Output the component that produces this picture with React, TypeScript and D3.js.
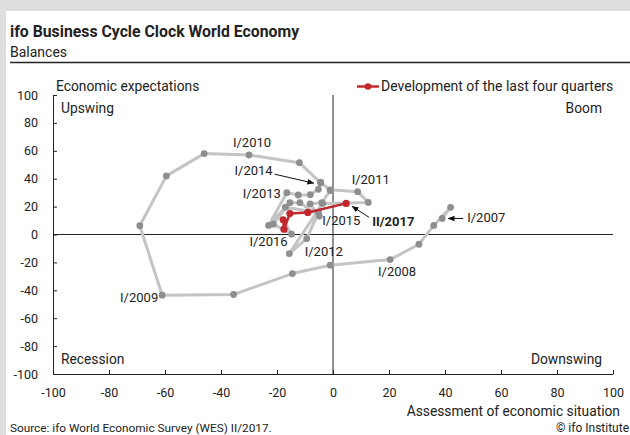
import React, { useEffect, useRef } from "react";
import * as d3 from "d3";

// quarterly observations, I/2007 .. II/2017
const quarters = [
  "I/2007", "II/2007", "III/2007", "IV/2007",
  "I/2008", "II/2008", "III/2008", "IV/2008",
  "I/2009", "II/2009", "III/2009", "IV/2009",
  "I/2010", "II/2010", "III/2010", "IV/2010",
  "I/2011", "II/2011", "III/2011", "IV/2011",
  "I/2012", "II/2012", "III/2012", "IV/2012",
  "I/2013", "II/2013", "III/2013", "IV/2013",
  "I/2014", "II/2014", "III/2014", "IV/2014",
  "I/2015", "II/2015", "III/2015", "IV/2015",
  "I/2016", "II/2016", "III/2016", "IV/2016",
  "I/2017", "II/2017",
];

// assessment of economic situation (x)
const situation = [
  39, 42, 36, 30.7,
  20.4, -1, -14.5, -35.5,
  -61, -69, -59.5, -46,
  -30, -12, -4.4, -1,
  8.8, 12.6, -3.7, -15.6,
  -9.4, -5.2, -17, -23,
  -16.5, -12.4, -8.1, -5.2,
  -4.4, -1, -4, -8.2,
  -4.9, -11.8, -15.4, -21.3,
  -14.8, -17.8, -17.5, -15.4,
  -9, 4.7,
];

// economic expectations (y)
const expectations = [
  11.5, 19.5, 6.5, -7,
  -18, -22, -28, -43,
  -43.5, 6.3, 42, 58,
  57, 51.5, 37, 32,
  30.7, 23, 22.3, -13.7,
  -3, 15.6, 19.6, 6.5,
  30, 28.3, 28.5, 32.4,
  37.5, 31.5, 22.8, 22,
  13.2, 22.8, 22.8, 7.4,
  0.2, 10.5, 3.8, 15,
  15.8, 22.3,
];

const highlightStart = "II/2016";
const axisTicks = [-100, -80, -60, -40, -20, 0, 20, 40, 60, 80, 100];

const quadrants = ["Upswing", "Boom", "Recession", "Downswing"];

// annotations: label text offset from its point, optional arrow [x1,y1,x2,y2] offsets
const annotations = [
  { q: "I/2007", dx: 25, dy: 4, anchor: "start", arrow: [21, 0, 6, 0] },
  { q: "I/2008", dx: 7, dy: 16, anchor: "middle" },
  { q: "I/2009", dx: -4, dy: 7, anchor: "end" },
  { q: "I/2010", dx: 3, dy: -8, anchor: "middle" },
  { q: "I/2011", dx: -6, dy: -8, anchor: "start" },
  { q: "I/2012", dx: -2, dy: 17, anchor: "start" },
  { q: "I/2013", dx: -6, dy: 5, anchor: "end" },
  { q: "I/2014", dx: -48, dy: -7, anchor: "end", arrow: [-46, -8, -7, 1] },
  { q: "I/2015", dx: 3, dy: 9, anchor: "start" },
  { q: "I/2016", dx: -4, dy: 12, anchor: "end" },
  { q: "II/2017", dx: 26, dy: 23, anchor: "start", arrow: [23, 14, 6, 3], bold: true },
];

const FONT = "Roboto, 'Noto Sans', sans-serif";
const TXT = "#222";

export default function App() {
  const ref = useRef<SVGSVGElement>(null);

  useEffect(() => {
    const W = 630, H = 435;
    const svg = d3.select(ref.current).html("");

    svg.append("rect").attr("width", W).attr("height", H).attr("fill", "#dedede");
    svg.append("rect").attr("x", 6).attr("y", 11).attr("width", W - 6).attr("height", H - 11).attr("fill", "#fff");

    const defs = svg.append("defs");
    defs.append("marker")
      .attr("id", "arr")
      .attr("viewBox", "0 0 10 10")
      .attr("refX", 9).attr("refY", 5)
      .attr("markerWidth", 7).attr("markerHeight", 7)
      .attr("orient", "auto")
      .append("path").attr("d", "M0,1L10,5L0,9z").attr("fill", "#111");

    // title block
    svg.append("text").attr("x", 10).attr("y", 36.5).text("ifo Business Cycle Clock World Economy")
      .attr("font-family", FONT).attr("font-size", 15.8).attr("font-weight", 700).attr("fill", TXT);
    svg.append("text").attr("x", 10).attr("y", 56.5).text("Balances")
      .attr("font-family", FONT).attr("font-size", 14).attr("fill", TXT);
    svg.append("line").attr("x1", 10).attr("x2", W).attr("y1", 62.5).attr("y2", 62.5)
      .attr("stroke", "#222").attr("stroke-width", 1.3);

    const x = d3.scaleLinear().domain([-100, 100]).range([53, 613]);
    const y = d3.scaleLinear().domain([-100, 100]).range([374, 95]);

    const styleAxis = (g: any) => {
      g.attr("font-family", FONT).attr("font-size", 12.5);
      g.selectAll("path, line").attr("stroke", "#222");
      g.selectAll("text").attr("fill", TXT);
    };

    svg.append("g")
      .attr("transform", `translate(0,${y(-100)})`)
      .call(d3.axisBottom(x).tickValues(axisTicks).tickSize(-4).tickSizeOuter(0).tickPadding(14)
        .tickFormat((d: any) => String(d)))
      .call(styleAxis);

    svg.append("g")
      .attr("transform", `translate(${x(-100)},0)`)
      .call(d3.axisLeft(y).tickValues(axisTicks).tickSize(-4).tickSizeOuter(0).tickPadding(15)
        .tickFormat((d: any) => String(d)))
      .call(styleAxis);

    // zero cross
    svg.append("line").attr("x1", x(-100)).attr("x2", x(100)).attr("y1", y(0)).attr("y2", y(0))
      .attr("stroke", "#222").attr("stroke-width", 1);
    svg.append("line").attr("x1", x(0)).attr("x2", x(0)).attr("y1", y(100)).attr("y2", y(-100))
      .attr("stroke", "#222").attr("stroke-width", 1);

    const txt = (tx: number, ty: number, s: string, anchor = "start", size = 13.8) =>
      svg.append("text").attr("x", tx).attr("y", ty).text(s).attr("text-anchor", anchor)
        .attr("font-family", FONT).attr("font-size", size).attr("fill", TXT);

    txt(56, 91, "Economic expectations");
    txt(620, 416, "Assessment of economic situation", "end");
    txt(61, 113, quadrants[0]);
    txt(602, 113, quadrants[1], "end");
    txt(61, 364, quadrants[2]);
    txt(602, 364, quadrants[3], "end");
    txt(10, 432, "Source: ifo World Economic Survey (WES) II/2017.", "start", 11.8);
    txt(629, 432, "\u00a9 ifo Institute", "end", 12);

    // legend
    const red = "#c1272d";
    svg.append("line").attr("x1", 357).attr("x2", 379).attr("y1", 86.5).attr("y2", 86.5)
      .attr("stroke", red).attr("stroke-width", 2.5);
    svg.append("circle").attr("cx", 368).attr("cy", 86.5).attr("r", 3.3).attr("fill", red);
    txt(381, 91, "Development of the last four quarters", "start", 14);

    const idx = d3.range(quarters.length);
    const hi = quarters.indexOf(highlightStart);
    const grayIdx = idx.slice(0, hi + 1);
    const redIdx = idx.slice(hi);

    const line = d3.line<number>()
      .x(i => x(situation[i]))
      .y(i => y(expectations[i]));

    svg.append("path").attr("d", line(grayIdx)).attr("fill", "none")
      .attr("stroke", "#c4c4c4").attr("stroke-width", 3).attr("stroke-linejoin", "round");
    svg.append("g").selectAll("circle").data(idx.slice(0, hi)).join("circle")
      .attr("cx", i => x(situation[i])).attr("cy", i => y(expectations[i]))
      .attr("r", 3.4).attr("fill", "#8e8e8e");

    svg.append("path").attr("d", line(redIdx)).attr("fill", "none")
      .attr("stroke", red).attr("stroke-width", 2.5).attr("stroke-linejoin", "round");
    svg.append("g").selectAll("circle").data(redIdx).join("circle")
      .attr("cx", i => x(situation[i])).attr("cy", i => y(expectations[i]))
      .attr("r", 3.6).attr("fill", red);

    // annotations
    annotations.forEach(a => {
      const i = quarters.indexOf(a.q);
      const px = x(situation[i]), py = y(expectations[i]);
      if (a.arrow) {
        svg.append("line")
          .attr("x1", px + a.arrow[0]).attr("y1", py + a.arrow[1])
          .attr("x2", px + a.arrow[2]).attr("y2", py + a.arrow[3])
          .attr("stroke", "#111").attr("stroke-width", 1).attr("marker-end", "url(#arr)");
      }
      txt(px + a.dx, py + a.dy, a.q, a.anchor, 13).attr("font-weight", a.bold ? 700 : 400);
    });
  }, []);

  return (
    <div style={{ position: "absolute", left: 0, top: 0 }}>
      <svg ref={ref} width={630} height={435} style={{ display: "block" }} />
    </div>
  );
}
